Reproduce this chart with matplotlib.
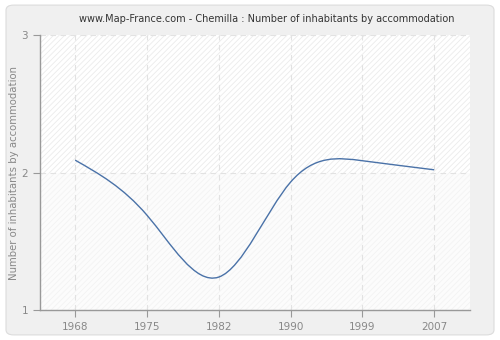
import numpy as np
import matplotlib
matplotlib.use("Agg")
import matplotlib.pyplot as plt
from matplotlib.path import Path
from matplotlib.patches import PathPatch, FancyBboxPatch

years = ["1968", "1975", "1982", "1990", "1999", "2007"]
values = [2.09, 1.69, 1.24, 1.93, 2.086, 2.02]
yticks = [1, 2, 3]
title = "www.Map-France.com - Chemilla : Number of inhabitants by accommodation"
ylabel = "Number of inhabitants by accommodation"

plt.rcParams["hatch.linewidth"] = 0.6

fig = plt.figure(figsize=(5, 3.4), dpi=100)
fig.patch.set_facecolor("white")
bg = FancyBboxPatch((0.012, 0.015), 0.976, 0.97, boxstyle="round,pad=0,rounding_size=0.015",
                    transform=fig.transFigure, facecolor="#f0f0f0", edgecolor="#dcdcdc",
                    linewidth=0.8, zorder=-10)
fig.add_artist(bg)

ax = fig.add_axes([0.08, 0.088, 0.86, 0.809])
ax.set_zorder(1)
ax.set_facecolor("white")
ax.set_xlim(-0.49, 5.5)
ax.set_ylim(1, 3)

# hatched bands
ax.axhspan(2, 3, facecolor="white", edgecolor="#ebebeb", hatch="//////", linewidth=0, zorder=0)
ax.axhspan(1, 2, facecolor="#fcfcfc", edgecolor="#f3f3f3", hatch="//////", linewidth=0, zorder=0)

x = np.arange(len(values), dtype=float)
y = np.array(values)
n = len(y)
# natural cubic spline second derivatives
A = np.zeros((n, n)); b = np.zeros(n)
A[0, 0] = 1; A[-1, -1] = 1
for i in range(1, n - 1):
    A[i, i - 1] = 1; A[i, i] = 4; A[i, i + 1] = 1
    b[i] = 6 * (y[i + 1] - 2 * y[i] + y[i - 1])
M = np.linalg.solve(A, b)
verts = [(x[0], y[0])]
codes = [Path.MOVETO]
for i in range(n - 1):
    d0 = (y[i + 1] - y[i]) - (2 * M[i] + M[i + 1]) / 6
    d1 = (y[i + 1] - y[i]) + (M[i] + 2 * M[i + 1]) / 6
    verts += [(x[i] + 1 / 3, y[i] + d0 / 3), (x[i + 1] - 1 / 3, y[i + 1] - d1 / 3), (x[i + 1], y[i + 1])]
    codes += [Path.CURVE4] * 3
ax.add_patch(PathPatch(Path(verts, codes), facecolor="none", edgecolor="#4a72a8", linewidth=1.0, zorder=3))

ax.set_xticks(x)
ax.set_xticklabels(years)
ax.set_yticks(yticks)
ax.grid(True, color="#e2e2e2", linestyle=(0, (5, 4)), linewidth=0.8)
ax.set_axisbelow(True)
for s in ["top", "right"]:
    ax.spines[s].set_visible(False)
for s in ["left", "bottom"]:
    ax.spines[s].set_color("#999999")
    ax.spines[s].set_linewidth(1.0)
ax.tick_params(colors="#999999", labelcolor="#888888", labelsize=7.5, length=5, width=0.8)
ax.set_ylabel(ylabel, color="#888888", fontsize=7.3, labelpad=1.5)
fig.text(0.534, 0.945, title, ha="center", va="center", fontsize=7, color="#333333")

fig.savefig("out.png", dpi=100, facecolor=fig.get_facecolor())
